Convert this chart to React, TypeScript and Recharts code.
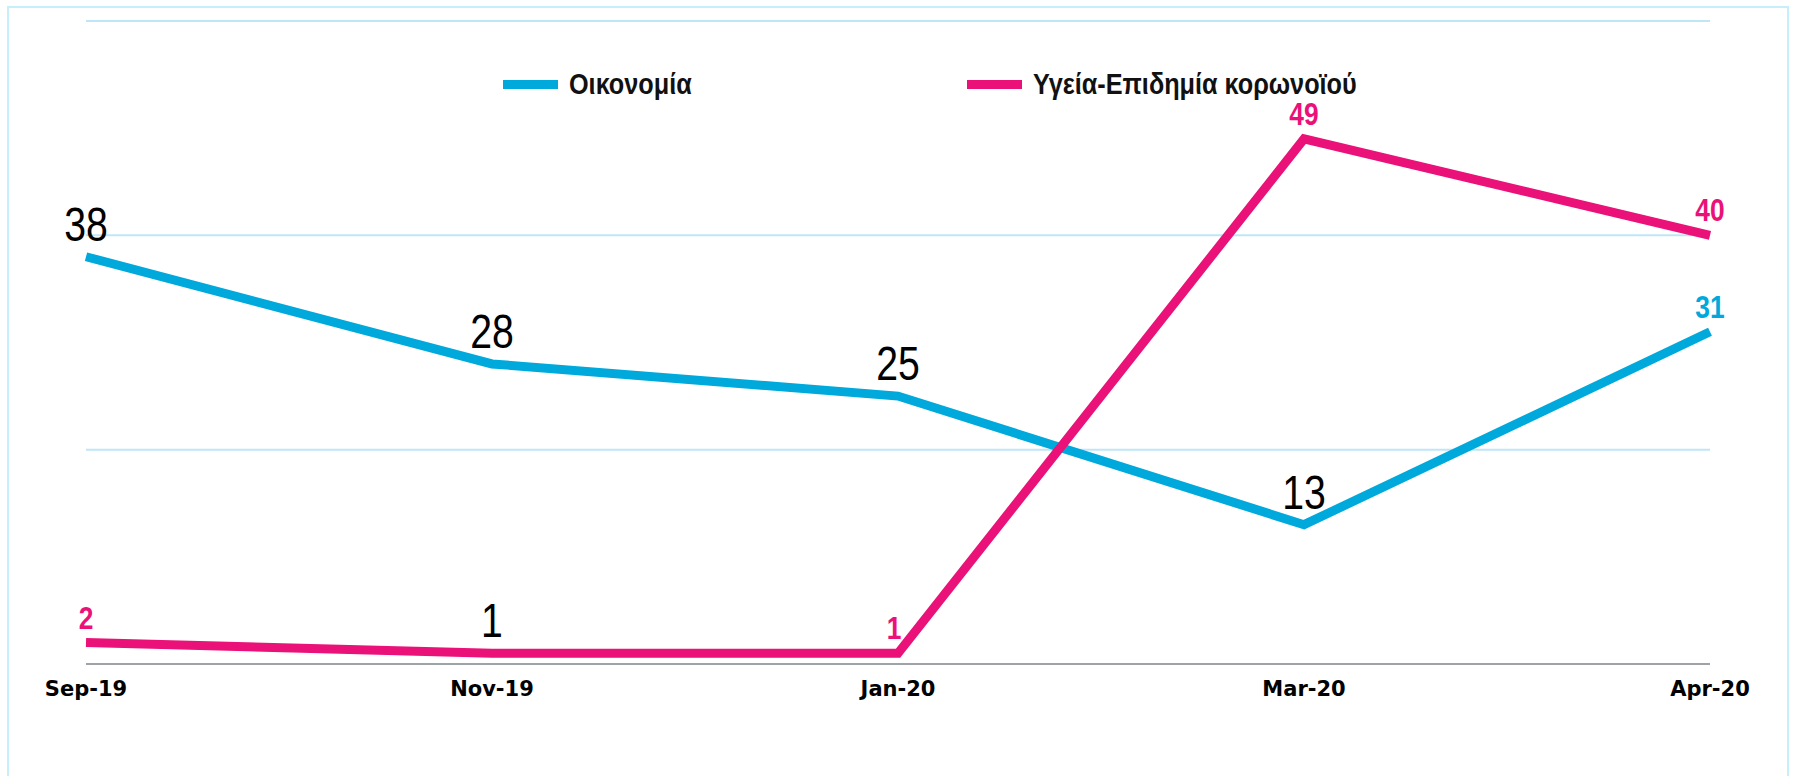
import { LineChart, Line, XAxis, YAxis, CartesianGrid, LabelList } from "recharts";

const months = ["Sep-19", "Nov-19", "Jan-20", "Mar-20", "Apr-20"];
const economy = [38, 28, 25, 13, 31];
const health = [2, 1, 1, 49, 40];
const yTicks = [0, 20, 40, 60];

// how each point's value label is drawn
const economyLabelKind = ["big", "big", "big", "big", "accent"];
const healthLabelKind = ["accent", "big", "accentLeft", "accent", "accent"];

const BLUE = "#00a9db";
const PINK = "#ea1178";
const GRID = "#bfe6f7";
const LABEL_FONT = "'Liberation Sans', Arial, sans-serif";

const data = months.map((m, i) => ({ month: m, economy: economy[i], health: health[i] }));

function makeLabel(kinds: string[], color: string) {
  return (props: any) => {
    const { x, y, value, index } = props;
    const kind = kinds[index];
    if (kind === "big") {
      return (
        <text
          transform={`translate(${x},${y - 16}) scale(0.8,1)`}
          textAnchor="middle"
          fontFamily={LABEL_FONT}
          fontSize={49}
          fill="#000"
        >
          {value}
        </text>
      );
    }
    const dx = kind === "accentLeft" ? -4 : 0;
    return (
      <text
        transform={`translate(${x + dx},${y - 14}) scale(0.85,1)`}
        textAnchor="middle"
        fontFamily={LABEL_FONT}
        fontWeight="bold"
        fontSize={31}
        fill={color}
      >
        {value}
      </text>
    );
  };
}

const legendItems = [
  { name: "Οικονομία", color: BLUE, left: 503 },
  { name: "Υγεία-Επιδημία κορωνοϊού", color: PINK, left: 967 },
];

function ChartLegend() {
  return (
    <div style={{ position: "absolute", left: 0, top: 68, width: 1794, height: 32 }}>
      {legendItems.map((it) => (
        <div key={it.name} style={{ position: "absolute", left: it.left, top: 0, height: 32, display: "flex", alignItems: "center" }}>
          <span style={{ display: "inline-block", width: 55, height: 9, background: it.color, marginRight: 11 }} />
          <span
            style={{
              display: "inline-block",
              fontFamily: LABEL_FONT,
              fontWeight: "bold",
              fontSize: 29,
              lineHeight: "32px",
              color: "#111",
              transform: "scaleX(0.87)",
              transformOrigin: "left center",
              whiteSpace: "nowrap",
            }}
          >
            {it.name}
          </span>
        </div>
      ))}
    </div>
  );
}

export default function App() {
  return (
    <div style={{ position: "fixed", left: 0, top: 0, width: 1794, height: 776, overflow: "hidden", background: "#fff" }}>
      <div
        style={{
          position: "absolute",
          left: 7,
          top: 6,
          width: 1778,
          height: 800,
          border: "2px solid #c6eefb",
        }}
      />
      <LineChart width={1794} height={776} data={data} margin={{ top: 21, right: 84, bottom: 72, left: 86 }}>
        <CartesianGrid horizontal vertical={false} stroke={GRID} strokeWidth={2} />
        <XAxis
          dataKey="month"
          height={40}
          axisLine={{ stroke: "#9ea3a8", strokeWidth: 2 }}
          tickLine={false}
          tickSize={0}
          tickMargin={17}
          tick={{ fontFamily: "'DejaVu Sans', sans-serif", fontWeight: "bold", fontSize: 21, fill: "#000" }}
        />
        <YAxis hide domain={[0, 60]} ticks={yTicks} />
        <Line
          type="linear"
          dataKey="economy"
          name="Οικονομία"
          stroke={BLUE}
          strokeWidth={9}
          dot={false}
          activeDot={false}
          isAnimationActive={false}
        >
          <LabelList dataKey="economy" content={makeLabel(economyLabelKind, BLUE)} />
        </Line>
        <Line
          type="linear"
          dataKey="health"
          name="Υγεία-Επιδημία κορωνοϊού"
          stroke={PINK}
          strokeWidth={9}
          dot={false}
          activeDot={false}
          isAnimationActive={false}
        >
          <LabelList dataKey="health" content={makeLabel(healthLabelKind, PINK)} />
        </Line>
      </LineChart>
      <ChartLegend />
    </div>
  );
}
